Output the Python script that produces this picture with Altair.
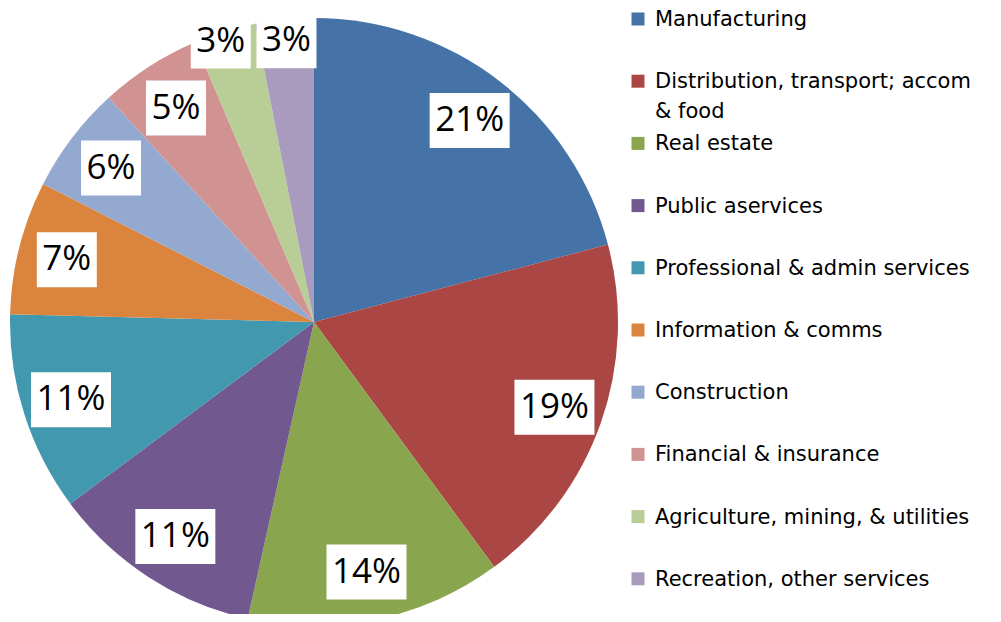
import altair as alt
import pandas as pd

sectors = [
    "Manufacturing",
    "Distribution, transport; accom\n& food",
    "Real estate",
    "Public aservices",
    "Professional & admin services",
    "Information & comms",
    "Construction",
    "Financial & insurance",
    "Agriculture, mining, & utilities",
    "Recreation, other services",
]
shares = [20.9, 19.0, 13.6, 11.3, 10.6, 7.1, 5.7, 5.4, 3.3, 3.1]
colors = ["#4572A7", "#AA4643", "#89A54E", "#71588F", "#4198AF",
          "#DB843D", "#93A9CF", "#D19392", "#B9CD96", "#A99BBD"]

df = pd.DataFrame({
    "sector": sectors,
    "share": shares,
    "order": list(range(len(sectors))),
})

CX, CY, R = 306, 314, 304

base = (
    alt.Chart(df)
    .transform_joinaggregate(total="sum(share)")
    .transform_window(cum="sum(share)", sort=[alt.SortField("order")], frame=[None, 0])
    .transform_calculate(label="format(datum.share / datum.total, '.0%')")
    .transform_calculate(start="(datum.cum - datum.share) / datum.total * 2 * PI")
    .transform_calculate(end="datum.cum / datum.total * 2 * PI")
    .transform_calculate(mid="(datum.start + datum.end) / 2")
    .transform_calculate(lr="datum.share < 4 ? 283 : 255")
    .transform_calculate(lx=f"{CX} + datum.lr * sin(datum.mid) + (datum.order == 8 ? -10 : 0)")
    .transform_calculate(ly=f"{CY} - datum.lr * cos(datum.mid) + (datum.order == 8 ? -11 : 0)")
    .transform_calculate(bw="20 * length(datum.label) + 20")
    .transform_calculate(bx1="datum.lx - datum.bw / 2", bx2="datum.lx + datum.bw / 2")
    .transform_calculate(by1="datum.ly - 27", by2="datum.ly + 28")
    .transform_calculate(legy="11 + datum.order * 62.2")
    .transform_calculate(legty="datum.legy + 7")
)

color = alt.Color("sector:N", scale=alt.Scale(domain=sectors, range=colors), legend=None)

arcs = base.mark_arc(radius=R).encode(
    theta=alt.Theta("start:Q", scale=None),
    theta2="end:Q",
    x=alt.value(CX),
    y=alt.value(CY),
    color=color,
)

boxes = base.mark_rect(color="white").encode(
    x=alt.X("bx1:Q", scale=None, axis=None),
    x2="bx2:Q",
    y=alt.Y("by1:Q", scale=None, axis=None),
    y2="by2:Q",
)

texts = base.mark_text(font="Open Sans", fontSize=35, color="black", baseline="middle", align="center").encode(
    x=alt.X("lx:Q", scale=None, axis=None),
    y=alt.Y("ly:Q", scale=None, axis=None),
    text="label:N",
)

legsq = base.mark_square(size=169, opacity=1).encode(
    x=alt.value(630),
    y=alt.Y("legy:Q", scale=None, axis=None),
    color=color,
)

legtxt = base.mark_text(font="DejaVu Sans", fontSize=21, color="black", align="left",
                        baseline="alphabetic", lineBreak="\n", lineHeight=30).encode(
    x=alt.value(647),
    y=alt.Y("legty:Q", scale=None, axis=None),
    text="sector:N",
)

chart = (
    alt.layer(arcs, boxes, texts, legsq, legtxt)
    .properties(width=985, height=606, padding=0, autosize=alt.AutoSizeParams(type="none"))
    .configure_view(stroke=None)
)

chart.save("out.html", embed_options={"renderer": "svg", "actions": False})
